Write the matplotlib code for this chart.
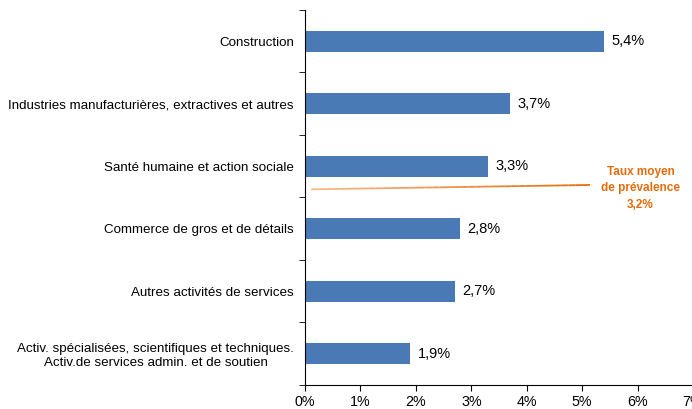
import numpy as np
import matplotlib
matplotlib.use("Agg")
import matplotlib.pyplot as plt
from matplotlib.collections import LineCollection
from matplotlib.ticker import FuncFormatter

plt.rcParams['font.family'] = ['Liberation Sans', 'DejaVu Sans']

categories = [
    "Construction",
    "Industries manufacturières, extractives et autres",
    "Santé humaine et action sociale",
    "Commerce de gros et de détails",
    "Autres activités de services",
    "Activ. spécialisées, scientifiques et techniques.\nActiv.de services admin. et de soutien",
]
values = [5.4, 3.7, 3.3, 2.8, 2.7, 1.9]
labels = ["5,4%", "3,7%", "3,3%", "2,8%", "2,7%", "1,9%"]
mean_rate = 3.2
mean_label = "Taux moyen\nde prévalence\n3,2%"

bar_color = '#4A7AB5'
orange = '#E46C0A'

fig = plt.figure(figsize=(6.92, 4.09), dpi=100)
ax = fig.add_axes([0.4408, 0.0587, 0.5607, 0.917])

n = len(categories)
y = np.arange(n)
ax.barh(y, values, height=0.34, color=bar_color)
for yi, v, lab in zip(y, values, labels):
    ax.text(v + 0.13, yi, lab, va='center', ha='left', fontsize=10.5)

ax.set_xlim(0, 7)
ax.set_ylim(n - 0.5, -0.5)
ax.set_xticks(range(0, 8))
ax.xaxis.set_major_formatter(FuncFormatter(lambda x, p: f"{int(x)}%"))
ax.set_yticks(y)
ax.set_yticklabels(categories, fontsize=9.6)
ax.set_yticks(np.arange(-0.5, n, 1), minor=True)
ax.tick_params(axis='y', which='major', length=0, pad=8)
ax.tick_params(axis='y', which='minor', length=4, direction='out')
ax.tick_params(axis='x', length=4, labelsize=10.3)
for lab in ax.get_yticklabels():
    lab.set_multialignment('center')
for s in ['top', 'right']:
    ax.spines[s].set_visible(False)

# mean-rate marker line (light to dark orange)
xs = np.linspace(0.11, 5.14, 40)
ys = np.linspace(2.37, 2.30, 40)
pts = np.array([xs, ys]).T.reshape(-1, 1, 2)
segs = np.concatenate([pts[:-1], pts[1:]], axis=1)
lc = LineCollection(segs, cmap=matplotlib.colors.LinearSegmentedColormap.from_list('o', ['#F6B98A', orange]),
                    linewidth=1.3)
lc.set_array(np.linspace(0, 1, len(segs)))
ax.add_collection(lc)
ax.text(6.05, 2.35, mean_label, color=orange, fontweight='bold', fontsize=8.5,
        ha='center', va='center', linespacing=1.5)

plt.savefig('out.png', dpi=100)
plt.close()
